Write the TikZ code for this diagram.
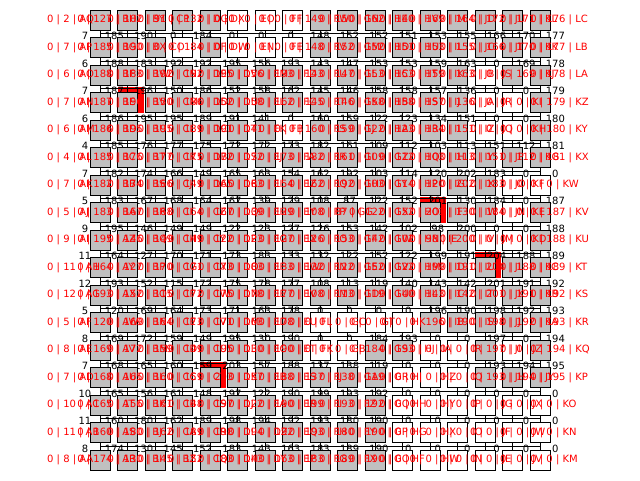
\documentclass[tikz,border=0pt]{standalone}
\usepackage{fontspec}
\setmainfont{DejaVu Sans}
\definecolor{cellgray}{RGB}{192,192,192}
\definecolor{pathred}{RGB}{255,0,0}
% costs, one row of 17 per line, LC at the top, KM at the bottom
\def\costs{{2,127,102,91,132,0,0,0,149,150,162,140,169,164,172,171,176,
7,185,190,0,184,0,0,0,148,152,152,151,153,155,166,170,177,
6,188,183,192,192,195,156,193,143,147,153,153,159,163,0,169,178,
7,187,196,150,186,152,158,162,145,146,158,158,157,136,0,0,179,
6,186,195,195,189,191,141,0,160,159,122,123,134,151,0,0,180,
4,185,176,177,175,172,172,173,182,161,109,112,103,113,151,112,181,
7,182,174,166,149,165,163,154,162,192,103,114,120,202,183,0,0,
5,183,167,168,164,167,139,129,108,87,122,152,201,130,184,0,187,
9,195,146,149,149,122,123,127,126,153,142,102,98,200,0,0,188,
11,164,127,170,171,173,183,133,132,122,152,122,199,191,204,188,189,
12,193,152,115,172,175,178,177,108,113,119,140,143,142,201,191,192,
5,120,169,164,173,171,163,178,0,0,0,0,196,190,198,192,193,
8,169,172,159,149,195,130,190,0,0,184,193,0,0,197,0,194,
7,168,165,160,159,203,157,188,137,138,119,0,0,0,193,194,195,
10,165,156,161,148,197,122,190,199,193,192,0,0,0,0,0,0,
11,160,180,162,189,198,194,192,193,180,190,0,0,0,0,0,0,
8,174,130,145,152,183,143,163,183,189,190,0,0,0,0,0,0}}
\def\abc{{"A","B","C","D","E","F","G","H","I","J","K","L","M",
"N","O","P","Q","R","S","T","U","V","W","X","Y","Z"}}
\tikzset{
  cell/.style={draw=black, line width=0.8pt, minimum size=20pt, inner sep=0pt},
  costlbl/.style={text=pathred, font=\fontsize{10}{12}\selectfont, anchor=west, inner sep=0pt},
  wlbl/.style={text=black, font=\fontsize{10}{12}\selectfont, inner sep=0pt},
  link/.style={black, line width=0.8pt}
}

\begin{document}
\begin{tikzpicture}[x=1pt, y=-1pt]
  \useasboundingbox (0,0) rectangle (640,480);
  % Current cells
  \foreach \c/\r in {1/3, 12/7, 14/9, 4/13}
    \fill[pathred] (100+27.5*\c-10, 20+27.5*\r-16) rectangle (100+27.5*\c+16, 20+27.5*\r+10.5);
  % Weights
  \foreach \r in {1,...,16}
    \foreach \c in {0,...,16}{
      \pgfmathtruncatemacro\v{\costs[17*\r+\c]}
      \node[wlbl] (w-\c-\r) at (85+29.4*\c, 20+27.5*\r-11.5) {\v};
    }
  % Cells
  \foreach \r in {0,...,16}
    \foreach \c in {0,...,16}{
      \pgfmathtruncatemacro\v{\costs[17*\r+\c]}
      \ifnum\v=0 \def\cellfill{white}\else\def\cellfill{cellgray}\fi
      \node[cell, fill=\cellfill] (b-\c-\r) at (100+27.5*\c, 20+27.5*\r) {};
    }
  % Links
  \foreach \r [evaluate=\r as \rn using int(\r+1)] in {0,...,15}{
    \coordinate (gl-\r) at (100, 20+27.5*\r+13.75);
    \coordinate (gr-\r) at (540, 20+27.5*\r+13.75);
    \draw[link] (gl-\r) -- (gr-\r);
    \foreach \c in {0,...,16}
      \draw[link] (b-\c-\r.south) -- (b-\c-\rn.north);
  }
  % Cost labels
  \foreach \r in {0,...,16}
    \foreach \c in {0,...,16}{
      \pgfmathtruncatemacro\v{\costs[17*\r+\c]}
      \pgfmathtruncatemacro\idx{17*\c+16-\r}
      \pgfmathtruncatemacro\hi{\idx/26}
      \pgfmathtruncatemacro\lo{mod(\idx,26)}
      \pgfmathparse{\abc[\hi]}\edef\fst{\pgfmathresult}
      \pgfmathparse{\abc[\lo]}\edef\snd{\pgfmathresult}
      \node[costlbl] (t-\c-\r) at (47+30.2*\c, 20+27.5*\r) {0 | \v{} | \fst\snd};
    }
\end{tikzpicture}
\end{document}
